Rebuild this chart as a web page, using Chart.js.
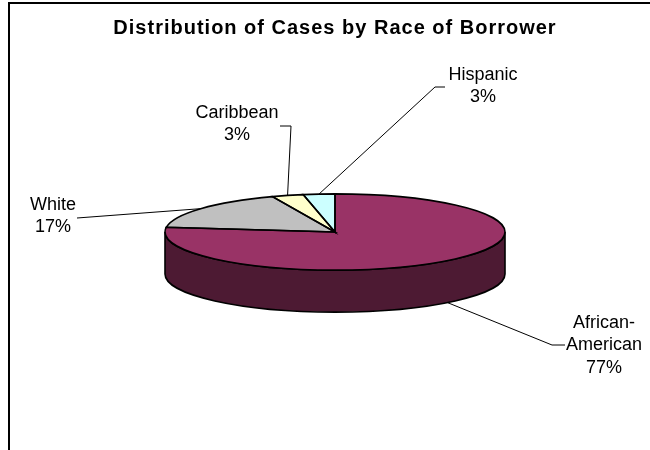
<!DOCTYPE html>
<html>
<head>
    <title>Distribution of Cases by Race of Borrower</title>
    <script src="https://cdn.jsdelivr.net/npm/chart.js@4.4.0/dist/chart.umd.min.js"></script>
    <style>
        body { margin: 0; background: #fff; }
        #wrap { position: relative; width: 650px; height: 450px; overflow: hidden; }
        #frame { position: absolute; left: 8px; top: 2px; width: 700px; height: 500px;
                 border-left: 2px solid #000; border-top: 2px solid #000; }
        #chart { position: absolute; left: 0; top: 0; }
    </style>
</head>
<body>
    <div id="wrap">
        <div id="frame"></div>
        <canvas id="chart" width="650" height="450"></canvas>
    </div>

    <script>
        const categories = ['African-American', 'White', 'Caribbean', 'Hispanic'];
        const shares = [77, 17, 3, 3];

        const topColors = ['#993366', '#c0c0c0', '#ffffcc', '#ccffff'];
        const sideColors = ['#4d1a33', '#707070', '#8c8c70', '#708c8c'];

        // where each label sits (centre of its first line) and the bends of its leader line
        const labelAnchors = [[604, 323], [53, 205], [237, 113], [483, 75]];
        const leaderBends = [
            [[552, 345], [565, 345]],
            [[77, 218]],
            [[291, 126], [280, 126]],
            [[435, 87], [445, 87]]
        ];

        const TILT = 0.224;   // height / width of the top ellipse
        const DEPTH = 42;     // thickness of the pie
        const FONT = "'Liberation Sans', Arial, sans-serif";

        const total = shares.reduce((a, b) => a + b, 0);

        function rimPoint(cx, cy, rx, ry, a) {
            // front half: leader starts on the lower rim
            const s = Math.sin(a);
            return [cx + rx * Math.cos(a), cy + ry * s + (s > 0 ? DEPTH : 0)];
        }

        const pie3d = {
            id: 'pie3d',
            beforeDraw(chart) {
                chart.ctx.letterSpacing = '1px';
            },
            beforeDatasetsDraw(chart) {
                const ctx = chart.ctx;
                ctx.letterSpacing = '0px';
                const arcs = chart.getDatasetMeta(0).data;
                const { x: cx, y: cy, outerRadius: rx } = arcs[0];
                const ry = rx * TILT;

                // side walls, only the part facing the viewer (0..PI)
                arcs.forEach((arc, i) => {
                    [0, 2 * Math.PI].forEach(k => {
                        const a0 = Math.max(arc.startAngle, k);
                        const a1 = Math.min(arc.endAngle, k + Math.PI);
                        if (a1 <= a0) return;
                        ctx.beginPath();
                        ctx.ellipse(cx, cy, rx, ry, 0, a0, a1);
                        ctx.ellipse(cx, cy + DEPTH, rx, ry, 0, a1, a0, true);
                        ctx.closePath();
                        ctx.fillStyle = sideColors[i];
                        ctx.fill();
                        ctx.lineWidth = 1.6;
                        ctx.strokeStyle = '#000';
                        ctx.stroke();
                    });
                });

                // squash the library's circle into the top ellipse
                ctx.save();
                ctx.translate(cx, cy);
                ctx.scale(1, TILT);
                ctx.translate(-cx, -cy);
            },
            afterDatasetsDraw(chart) {
                const ctx = chart.ctx;
                ctx.restore();
                const arcs = chart.getDatasetMeta(0).data;
                const { x: cx, y: cy, outerRadius: rx } = arcs[0];
                const ry = rx * TILT;

                ctx.save();
                ctx.lineWidth = 1.6;
                ctx.strokeStyle = '#000';
                arcs.forEach(arc => {
                    ctx.beginPath();
                    ctx.moveTo(cx, cy);
                    ctx.ellipse(cx, cy, rx, ry, 0, arc.startAngle, arc.endAngle);
                    ctx.closePath();
                    ctx.stroke();
                });

                // leader lines
                ctx.lineWidth = 1;
                arcs.forEach((arc, i) => {
                    const mid = (arc.startAngle + arc.endAngle) / 2;
                    const p = rimPoint(cx, cy, rx, ry, mid);
                    ctx.beginPath();
                    ctx.moveTo(p[0], p[1]);
                    leaderBends[i].forEach(b => ctx.lineTo(b[0], b[1]));
                    ctx.stroke();
                });

                // labels
                ctx.fillStyle = '#000';
                ctx.font = '18px ' + FONT;
                ctx.letterSpacing = '0px';
                ctx.textAlign = 'center';
                ctx.textBaseline = 'middle';
                categories.forEach((name, i) => {
                    const lines = name.replace('-', '-\n').split('\n');
                    lines.push(Math.round(shares[i] / total * 100) + '%');
                    lines.forEach((t, j) => {
                        ctx.fillText(t, labelAnchors[i][0], labelAnchors[i][1] + j * 22.5);
                    });
                });
                ctx.restore();
            }
        };

        new Chart(document.getElementById('chart'), {
            type: 'pie',
            data: {
                labels: categories,
                datasets: [{
                    data: shares,
                    backgroundColor: topColors,
                    borderWidth: 0,
                    hoverOffset: 0
                }]
            },
            options: {
                responsive: false,
                animation: false,
                events: [],
                radius: 170,
                layout: { padding: { left: 20, right: 0, top: 0, bottom: 30 } },
                plugins: {
                    legend: { display: false },
                    tooltip: { enabled: false },
                    title: {
                        display: true,
                        text: 'Distribution of Cases by Race of Borrower',
                        color: '#000',
                        font: { family: FONT, size: 20, weight: 'bold' },
                        padding: { top: 16, bottom: 4 }
                    }
                }
            },
            plugins: [pie3d]
        });
    </script>
</body>
</html>
